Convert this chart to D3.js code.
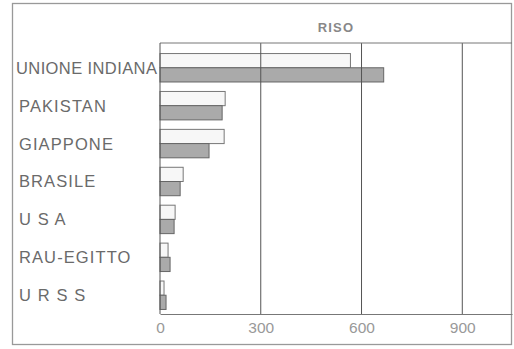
<!DOCTYPE html>
<html>
<head>
<meta charset="utf-8">
<script src="https://cdn.jsdelivr.net/npm/d3@7"></script>
<style>
  body { margin: 0; background: #fff; }
  text { font-family: "Liberation Sans", Arial, sans-serif; }
</style>
</head>
<body>
<svg id="chart" width="514" height="349"></svg>
<script>
// data
const countries = ["UNIONE INDIANA", "PAKISTAN", "GIAPPONE", "BRASILE", "U S A", "RAU-EGITTO", "U R S S"];
const lightValues = [567, 194, 191, 69, 45, 24, 12];
const darkValues = [666, 185, 146, 60, 42, 30, 18];
const xTicks = [0, 300, 600, 900];

let svg = d3.select("#chart");
let margin = {top: 43, right: 2, bottom: 35, left: 160};
let width = +svg.attr("width") - margin.left - margin.right;
let height = +svg.attr("height") - margin.top - margin.bottom;

// outer frame
svg.append("rect")
    .attr("x", 12.5).attr("y", 3.5)
    .attr("width", 499).attr("height", 341)
    .attr("fill", "none")
    .attr("stroke", "#999")
    .attr("stroke-width", 1.3);

// title
svg.append("text")
    .attr("x", 336)
    .attr("y", 32)
    .attr("text-anchor", "middle")
    .style("font-size", "13px")
    .style("font-weight", "bold")
    .attr("fill", "#888")
    .attr("letter-spacing", "1.2px")
    .text("RISO");

let x = d3.scaleLinear()
    .domain([0, 1048])
    .range([0, width]);

let y = d3.scaleBand()
    .domain(countries)
    .range([6, 271])
    .paddingInner(0.25)
    .paddingOuter(0.12);

let g = svg.append("g")
    .attr("transform", `translate(${margin.left},${margin.top})`);

// bars
let half = y.bandwidth() / 2;
g.selectAll(".bar-light")
    .data(countries)
    .join("rect")
    .attr("class", "bar-light")
    .attr("x", x(0))
    .attr("y", d => y(d))
    .attr("width", (d, i) => x(lightValues[i]) - x(0))
    .attr("height", half)
    .attr("fill", "#f7f7f7")
    .attr("stroke", "#777")
    .attr("stroke-width", 1);

g.selectAll(".bar-dark")
    .data(countries)
    .join("rect")
    .attr("class", "bar-dark")
    .attr("x", x(0))
    .attr("y", d => y(d) + half)
    .attr("width", (d, i) => x(darkValues[i]) - x(0))
    .attr("height", half)
    .attr("fill", "#aaa")
    .attr("stroke", "#666")
    .attr("stroke-width", 1);

// grid lines
g.selectAll(".grid")
    .data(xTicks.slice(1))
    .join("line")
    .attr("class", "grid")
    .attr("x1", d => x(d)).attr("x2", d => x(d))
    .attr("y1", 0).attr("y2", height)
    .attr("stroke", "#555")
    .attr("stroke-width", 1);

// plot frame (top, left)
g.append("line")
    .attr("x1", 0).attr("x2", width)
    .attr("y1", 0).attr("y2", 0)
    .attr("stroke", "#777");
g.append("line")
    .attr("x1", 0).attr("x2", 0)
    .attr("y1", 0).attr("y2", height)
    .attr("stroke", "#555");

// x axis
g.append("g")
    .attr("class", "axis axis-x")
    .attr("transform", `translate(0,${height})`)
    .call(d3.axisBottom(x).tickValues(xTicks).tickSize(0).tickPadding(8))
    .call(g => g.select(".domain").attr("stroke", "#777"))
    .call(g => g.selectAll(".tick text")
        .style("font-size", "15.5px")
        .style("font-family", "Liberation Sans, Arial, sans-serif")
        .attr("fill", "#999"));

// category labels
svg.selectAll(".label")
    .data(countries)
    .join("text")
    .attr("class", "label")
    .attr("x", (d, i) => i === 0 ? 16 : 19)
    .attr("y", d => margin.top + y(d) + y.bandwidth() / 2)
    .attr("dy", "0.36em")
    .style("font-size", "16.5px")
    .attr("letter-spacing", (d, i) => i === 0 ? "0.4px" : "1.1px")
    .attr("fill", "#6a6a6a")
    .text(d => d);
</script>
</body>
</html>
